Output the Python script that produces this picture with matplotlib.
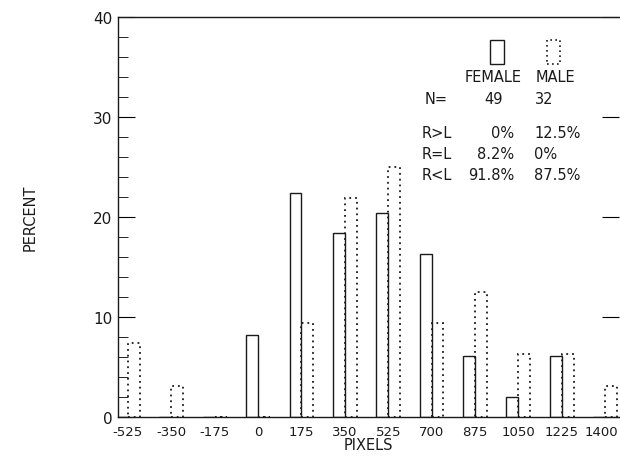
import numpy as np
import matplotlib.pyplot as plt
import matplotlib.transforms as mtransforms
from matplotlib.ticker import MultipleLocator
from matplotlib.patches import Rectangle

plt.rcParams['font.family'] = 'DejaVu Sans'

pixels = [-525, -350, -175, 0, 175, 350, 525, 700, 875, 1050, 1225, 1400]
female = [0, 0, 0, 8.2, 22.4, 18.4, 20.4, 16.3, 6.1, 2.0, 6.1, 0]
male = [7.4, 3.1, 0, 0, 9.4, 21.9, 25.0, 9.4, 12.5, 6.3, 6.3, 3.1]

groups = ['FEMALE', 'MALE']
n_counts = ['49', '32']
rows = ['R>L', 'R=L', 'R<L']
female_pct = ['0%', '8.2%', '91.8%']
male_pct = ['12.5%', '0%', '87.5%']

W, H = 620, 460
ink = '#1a1a1a'
fig = plt.figure(figsize=(W / 100, H / 100), dpi=100)
ax = fig.add_axes([118 / W, 42 / H, 501 / W, 400 / H])

x = np.array(pixels)
bw = 48
ax.bar(x - bw / 2, female, width=bw, fill=False, edgecolor=ink, linewidth=1.0)
ax.bar(x + bw / 2, male, width=bw, fill=False, edgecolor=ink, linewidth=1.3,
       linestyle=(0, (1, 2.2)))

ax.set_xlim(-565, 1456)
ax.set_ylim(0, 40)
ax.set_xticks(pixels)
ax.set_xticklabels([str(p) for p in pixels], color=ink)
ax.tick_params(axis='x', length=0, pad=6, labelsize=9.5)
ax.yaxis.set_major_locator(MultipleLocator(10))
ax.yaxis.set_minor_locator(MultipleLocator(2))
ax.tick_params(axis='y', which='major', direction='in', length=12, labelsize=11,
               right=True, pad=4, labelcolor=ink)
ax.tick_params(axis='y', which='minor', direction='in', length=7)
ax.spines['right'].set_visible(False)
for s in ['left', 'top', 'bottom']:
    ax.spines[s].set_linewidth(1.0)
    ax.spines[s].set_color(ink)
# right side has only major ticks
for t in ax.yaxis.get_minor_ticks():
    t.tick2line.set_visible(False)

# last label sits right at the figure edge; nudge it in a little
last = ax.get_xticklabels()[-1]
last.set_transform(last.get_transform() +
                   mtransforms.ScaledTranslation(-4 / 100, 0, fig.dpi_scale_trans))

fig.text(30 / W, 1 - 218 / H, 'PERCENT', rotation=90, ha='center', va='center',
         fontsize=10.5, color=ink)
fig.text(368 / W, 1 - 446 / H, 'PIXELS', ha='center', va='center', fontsize=10.5,
         color=ink)


def px(xp, yp):
    return xp / W, 1 - yp / H


# legend boxes
fig.patches.append(Rectangle(px(490, 65), 14 / W, 24 / H, transform=fig.transFigure,
                             fill=False, edgecolor=ink, linewidth=1.0))
fig.patches.append(Rectangle(px(547, 65), 13 / W, 24 / H, transform=fig.transFigure,
                             fill=False, edgecolor=ink, linewidth=1.2,
                             linestyle=(0, (1, 2))))

fs = 10.5
fig.text(*px(493, 77), groups[0], ha='center', va='center', fontsize=fs, color=ink)
fig.text(*px(555, 77), groups[1], ha='center', va='center', fontsize=fs, color=ink)
fig.text(*px(436, 99), 'N=', ha='center', va='center', fontsize=fs, color=ink)
fig.text(*px(494, 99), n_counts[0], ha='center', va='center', fontsize=fs, color=ink)
fig.text(*px(544, 99), n_counts[1], ha='center', va='center', fontsize=fs, color=ink)

row_y = [134, 155, 175]
for r, f, m, yy in zip(rows, female_pct, male_pct, row_y):
    fig.text(*px(422, yy), r, ha='left', va='center', fontsize=fs, color=ink)
    fig.text(*px(514, yy), f, ha='right', va='center', fontsize=fs, color=ink)
    fig.text(*px(534, yy), m, ha='left', va='center', fontsize=fs, color=ink)

fig.savefig('out.png', dpi=100)
